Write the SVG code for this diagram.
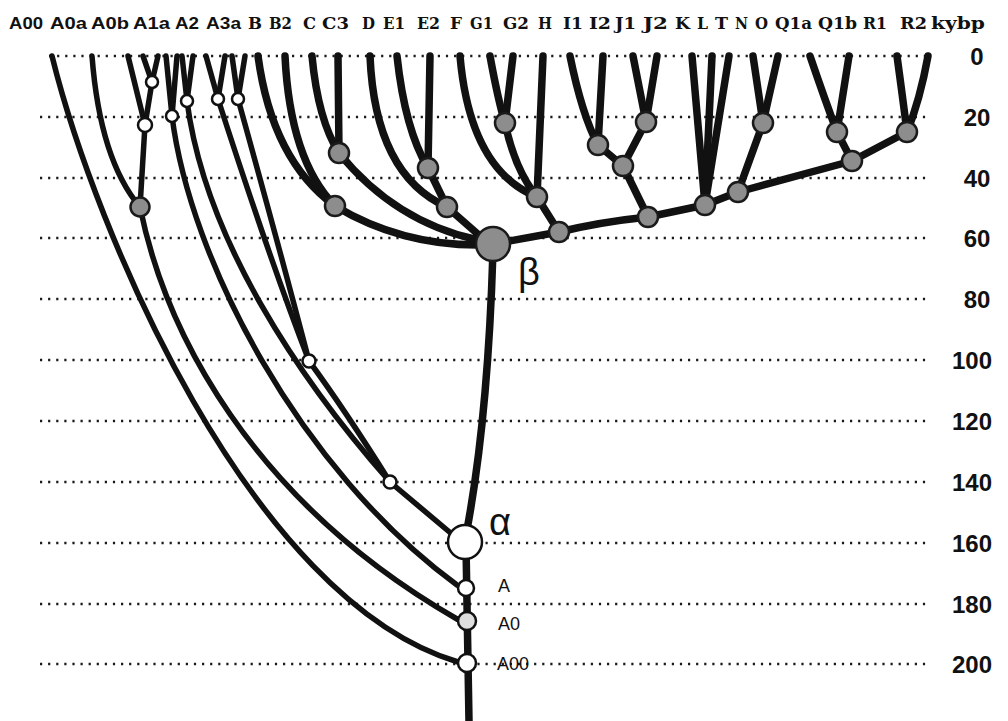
<svg xmlns="http://www.w3.org/2000/svg" width="1008" height="721" viewBox="0 0 1008 721">
<style>
.grid{stroke:#1a1a1a;stroke-width:2.4;stroke-dasharray:2.2 5.9;fill:none}
.e{fill:none;stroke:#111;stroke-width:7.5;stroke-linecap:round;stroke-linejoin:round}
.t{fill:none;stroke:#111;stroke-width:5.5;stroke-linecap:round;stroke-linejoin:round}
.g{fill:#8d8d8d;stroke:#1a1a1a;stroke-width:2.5}
.w{fill:#fff;stroke:#111;stroke-width:2.5}
.hs{font-family:"Liberation Sans",Arial,sans-serif;font-weight:bold;font-size:17px;fill:#111}
.hr{font-family:"DejaVu Serif","Liberation Serif",serif;font-weight:bold;font-size:17px;fill:#111}
.ax{font-family:"Liberation Sans",Arial,sans-serif;font-weight:bold;font-size:24px;text-anchor:middle;fill:#111}
.gk{font-family:"Liberation Sans",Arial,sans-serif;font-size:38px;fill:#111}
.nl{font-family:"Liberation Sans",Arial,sans-serif;font-size:18px;fill:#111}
</style>
<rect width="1008" height="721" fill="#fff"/>
<g id="grid">
<line class="grid" x1="49" y1="56" x2="928" y2="56"/>
<line class="grid" x1="40" y1="117" x2="928" y2="117"/>
<line class="grid" x1="40" y1="178" x2="928" y2="178"/>
<line class="grid" x1="40" y1="238" x2="928" y2="238"/>
<line class="grid" x1="40" y1="299" x2="928" y2="299"/>
<line class="grid" x1="40" y1="360" x2="928" y2="360"/>
<line class="grid" x1="40" y1="421" x2="928" y2="421"/>
<line class="grid" x1="40" y1="482" x2="928" y2="482"/>
<line class="grid" x1="40" y1="543" x2="928" y2="543"/>
<line class="grid" x1="40" y1="604" x2="928" y2="604"/>
<line class="grid" x1="40" y1="664" x2="928" y2="664"/>
</g>
<g id="axis">
<text class="ax" x="977" y="65">0</text>
<text class="ax" x="977" y="126">20</text>
<text class="ax" x="977" y="187">40</text>
<text class="ax" x="977" y="247">60</text>
<text class="ax" x="977" y="308">80</text>
<text class="ax" x="972" y="369">100</text>
<text class="ax" x="972" y="430">120</text>
<text class="ax" x="972" y="491">140</text>
<text class="ax" x="972" y="552">160</text>
<text class="ax" x="972" y="613">180</text>
<text class="ax" x="972" y="673">200</text>
</g>
<g id="header">
<text class="hs" x="9" y="29" textLength="34" lengthAdjust="spacingAndGlyphs">A00</text>
<text class="hs" x="50" y="29" textLength="37" lengthAdjust="spacingAndGlyphs">A0a</text>
<text class="hs" x="91" y="29" textLength="38" lengthAdjust="spacingAndGlyphs">A0b</text>
<text class="hs" x="133" y="29" textLength="37" lengthAdjust="spacingAndGlyphs">A1a</text>
<text class="hs" x="175" y="29" textLength="24" lengthAdjust="spacingAndGlyphs">A2</text>
<text class="hs" x="206" y="29" textLength="35" lengthAdjust="spacingAndGlyphs">A3a</text>
<text class="hr" x="248" y="29" textLength="14" lengthAdjust="spacingAndGlyphs">B</text>
<text class="hr" x="269" y="29" textLength="23" lengthAdjust="spacingAndGlyphs">B2</text>
<text class="hr" x="303" y="29" textLength="13" lengthAdjust="spacingAndGlyphs">C</text>
<text class="hr" x="322" y="29" textLength="27" lengthAdjust="spacingAndGlyphs">C3</text>
<text class="hr" x="362" y="29" textLength="13" lengthAdjust="spacingAndGlyphs">D</text>
<text class="hr" x="383" y="29" textLength="22" lengthAdjust="spacingAndGlyphs">E1</text>
<text class="hr" x="417" y="29" textLength="23" lengthAdjust="spacingAndGlyphs">E2</text>
<text class="hr" x="450" y="29" textLength="12" lengthAdjust="spacingAndGlyphs">F</text>
<text class="hr" x="470" y="29" textLength="23" lengthAdjust="spacingAndGlyphs">G1</text>
<text class="hr" x="503" y="29" textLength="26" lengthAdjust="spacingAndGlyphs">G2</text>
<text class="hr" x="538" y="29" textLength="14" lengthAdjust="spacingAndGlyphs">H</text>
<text class="hr" x="563" y="29" textLength="20" lengthAdjust="spacingAndGlyphs">I1</text>
<text class="hr" x="589" y="29" textLength="22" lengthAdjust="spacingAndGlyphs">I2</text>
<text class="hr" x="615" y="29" textLength="21" lengthAdjust="spacingAndGlyphs">J1</text>
<text class="hr" x="643" y="29" textLength="25" lengthAdjust="spacingAndGlyphs">J2</text>
<text class="hr" x="675" y="29" textLength="15" lengthAdjust="spacingAndGlyphs">K</text>
<text class="hr" x="697" y="29" textLength="11" lengthAdjust="spacingAndGlyphs">L</text>
<text class="hr" x="715" y="29" textLength="13" lengthAdjust="spacingAndGlyphs">T</text>
<text class="hr" x="735" y="29" textLength="13" lengthAdjust="spacingAndGlyphs">N</text>
<text class="hr" x="755" y="29" textLength="13" lengthAdjust="spacingAndGlyphs">O</text>
<text class="hr" x="775" y="29" textLength="37" lengthAdjust="spacingAndGlyphs">Q1a</text>
<text class="hr" x="818" y="29" textLength="39" lengthAdjust="spacingAndGlyphs">Q1b</text>
<text class="hr" x="863" y="29" textLength="24" lengthAdjust="spacingAndGlyphs">R1</text>
<text class="hr" x="900" y="29" textLength="27" lengthAdjust="spacingAndGlyphs">R2</text>
<text class="hr" x="931" y="29" textLength="54" lengthAdjust="spacingAndGlyphs">kybp</text>
</g>
<g id="connectors">
<path class="e" stroke-width="6" d="M493,250 Q488,420 466,535"/>
<path class="e" stroke-width="8" d="M466,545 L469,721"/>
<path class="t" stroke-width="5" d="M52,56 C95,230 250,600 458,662"/>
<path class="t" d="M140,207 C165,330 250,500 457,619"/>
<path class="t" d="M172,116 C190,260 300,470 457,585"/>
<path class="t" d="M187,101 C205,240 300,380 390,482"/>
<path class="t" d="M218,99 Q270,260 309,361"/>
<path class="t" d="M238,99 Q280,250 309,361"/>
<path class="t" d="M309,361 Q345,410 390,482"/>
<path class="t" d="M390,482 L453,535"/>
<path class="t" d="M92,56 Q100,160 140,207"/>
<path class="t" d="M128,56 L145,125"/>
<path class="t" d="M143,56 L152,82"/>
<path class="t" d="M158,56 L152,82"/>
<path class="t" d="M152,82 L145,125"/>
<path class="t" d="M145,125 L140,207"/>
<path class="t" d="M166,56 L172,116"/>
<path class="t" d="M177,56 L172,116"/>
<path class="t" d="M182,56 L187,101"/>
<path class="t" d="M193,56 L187,101"/>
<path class="t" d="M206,56 L218,99"/>
<path class="t" d="M225,56 L218,99"/>
<path class="t" d="M232,56 L238,99"/>
<path class="t" d="M245,56 L238,99"/>
<path class="e" d="M258,56 Q272,160 335,206"/>
<path class="e" d="M285,56 Q290,160 335,206"/>
<path class="e" d="M312,56 Q318,120 339,153"/>
<path class="e" d="M338,56 L339,153"/>
<path class="e" d="M370,56 Q375,175 447,207"/>
<path class="e" d="M397,56 Q405,130 428,168"/>
<path class="e" d="M430,56 L428,168"/>
<path class="e" d="M428,168 L447,207"/>
<path class="e" d="M447,207 L480,236"/>
<path class="e" d="M335,206 Q400,245 478,245"/>
<path class="e" d="M339,153 Q395,222 478,240"/>
<path class="e" d="M460,56 Q470,170 537,197"/>
<path class="e" d="M490,56 Q498,100 505,123"/>
<path class="e" d="M513,56 L505,123"/>
<path class="e" d="M505,123 Q515,170 537,197"/>
<path class="e" d="M543,56 L537,197"/>
<path class="e" d="M537,197 L559,232"/>
<path class="e" d="M493,244 L559,232"/>
<path class="e" d="M570,56 Q582,115 598,145"/>
<path class="e" d="M603,56 L598,145"/>
<path class="e" d="M633,56 L646,122"/>
<path class="e" d="M657,56 L646,122"/>
<path class="e" d="M598,145 L623,166"/>
<path class="e" d="M646,122 L623,166"/>
<path class="e" d="M623,166 L648,217"/>
<path class="e" d="M559,232 Q600,222 648,217 L705,205 L738,192 L852,161 L907,132"/>
<path class="e" d="M692,56 L705,205"/>
<path class="e" d="M712,56 L705,205"/>
<path class="e" d="M729,56 L705,205"/>
<path class="e" d="M753,56 L763,123"/>
<path class="e" d="M778,56 L763,123"/>
<path class="e" d="M763,123 L738,192"/>
<path class="e" d="M810,56 Q825,100 837,132"/>
<path class="e" d="M849,56 L837,132"/>
<path class="e" d="M837,132 L852,161"/>
<path class="e" d="M897,56 Q903,100 907,132"/>
<path class="e" d="M928,56 Q920,100 907,132"/>
</g>
<g id="n-a0sub1"><circle class="w" cx="152" cy="82" r="6"/></g>
<g id="n-a0sub2"><circle class="w" cx="145" cy="125" r="7"/></g>
<g id="n-a0"><circle class="g" cx="140" cy="207" r="9.5"/></g>
<g id="n-a2"><circle class="w" cx="172" cy="116" r="6"/></g>
<g id="n-a3"><circle class="w" cx="187" cy="101" r="6"/></g>
<g id="n-a4"><circle class="w" cx="218" cy="99" r="6"/></g>
<g id="n-a5"><circle class="w" cx="238" cy="99" r="6"/></g>
<g id="n-a45"><circle class="w" cx="309" cy="361" r="6.5"/></g>
<g id="n-a345"><circle class="w" cx="390" cy="482" r="6.5"/></g>
<g id="n-B"><circle class="g" cx="335" cy="206" r="10"/></g>
<g id="n-C"><circle class="g" cx="339" cy="153" r="10"/></g>
<g id="n-E"><circle class="g" cx="428" cy="168" r="10"/></g>
<g id="n-DE"><circle class="g" cx="447" cy="207" r="10"/></g>
<g id="n-G"><circle class="g" cx="505" cy="123" r="10"/></g>
<g id="n-FGH"><circle class="g" cx="537" cy="197" r="10"/></g>
<g id="n-CF"><circle class="g" cx="559" cy="232" r="10"/></g>
<g id="n-I"><circle class="g" cx="598" cy="145" r="10"/></g>
<g id="n-J"><circle class="g" cx="646" cy="122" r="10"/></g>
<g id="n-IJ"><circle class="g" cx="623" cy="166" r="10"/></g>
<g id="n-IJK"><circle class="g" cx="648" cy="217" r="10"/></g>
<g id="n-K"><circle class="g" cx="705" cy="205" r="10"/></g>
<g id="n-NOP"><circle class="g" cx="738" cy="192" r="10"/></g>
<g id="n-NO"><circle class="g" cx="763" cy="123" r="10"/></g>
<g id="n-P"><circle class="g" cx="852" cy="161" r="10"/></g>
<g id="n-Q"><circle class="g" cx="837" cy="132" r="10"/></g>
<g id="n-R"><circle class="g" cx="907" cy="132" r="10"/></g>
<g id="n-beta"><circle class="g" cx="493" cy="244" r="17"/><text class="gk" x="518" y="285">β</text></g>
<g id="n-alpha"><circle class="w" cx="465" cy="542" r="17"/><text class="gk" x="489" y="535">α</text></g>
<g id="n-A"><circle class="w" cx="466" cy="588" r="8"/><text class="nl" x="498" y="592">A</text></g>
<g id="n-A0"><circle fill="#dedede" stroke="#111" stroke-width="2.5" cx="467" cy="621" r="9"/><text class="nl" x="498" y="630">A0</text></g>
<g id="n-A00"><circle class="w" stroke-width="3" cx="467" cy="663" r="9"/><text class="nl" x="497" y="670">A00</text></g>
</svg>
